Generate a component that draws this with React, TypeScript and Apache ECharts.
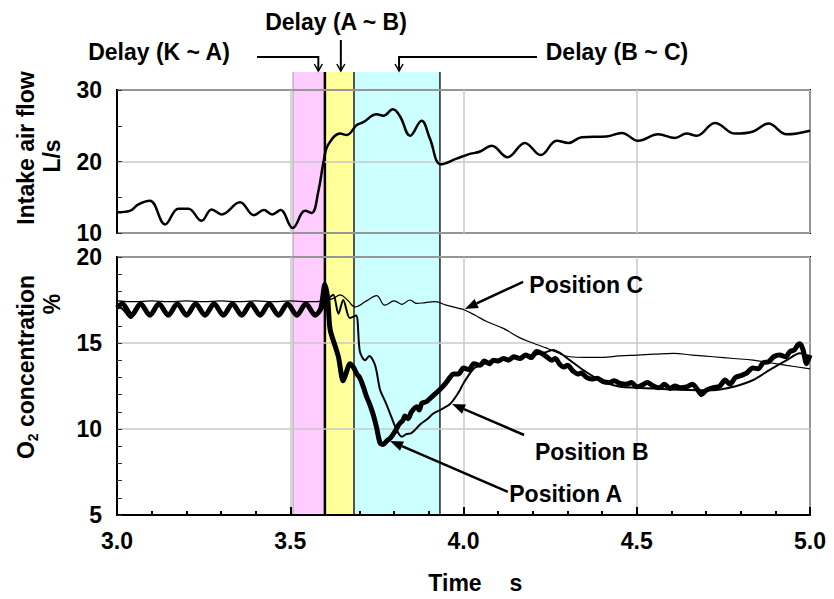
import React, { useEffect, useRef } from "react";
import * as echarts from "echarts";

const FONT = "'Liberation Sans', Arial, Helvetica, sans-serif";

// Time axis (s)
const timeMin = 3.0;
const timeMax = 5.0;
const timeStep = 0.5;

// Intake air flow (L/s) : [time, flow]
const intakeFlow: [number, number][] = [
  [3.0, 12.9], [3.037, 13.1], [3.062, 14.0], [3.095, 14.5], [3.139, 11.2], [3.177, 13.4],
  [3.206, 13.4], [3.244, 11.7], [3.273, 13.3], [3.302, 12.6], [3.355, 14.3], [3.395, 12.5],
  [3.424, 13.2], [3.448, 12.6], [3.472, 13.2], [3.507, 10.7], [3.543, 13.1], [3.562, 12.8],
  [3.581, 15.8], [3.597, 20.2], [3.61, 22.4], [3.644, 23.9], [3.663, 23.7], [3.692, 25.1],
  [3.711, 25.5], [3.749, 26.6], [3.769, 26.4], [3.796, 27.3], [3.817, 26.3], [3.846, 23.6],
  [3.879, 25.7], [3.903, 23.2], [3.935, 19.6], [3.98, 20.4], [4.014, 21.0], [4.048, 21.4],
  [4.081, 22.2], [4.127, 20.6], [4.177, 22.6], [4.223, 20.9], [4.269, 22.9], [4.303, 22.6],
  [4.341, 23.4], [4.413, 23.5], [4.457, 24.0], [4.504, 22.9], [4.562, 23.8], [4.61, 23.3],
  [4.644, 23.9], [4.673, 23.6], [4.726, 25.4], [4.784, 23.9], [4.836, 24.2], [4.88, 25.3],
  [4.933, 23.8], [5.0, 24.3],
];

// O2 concentration (%) at position A : [time, %]
const positionA: [number, number][] = [
  [3.0, 17.05], [3.015, 17.28], [3.042, 16.62], [3.068, 17.28], [3.095, 16.62], [3.121, 17.28],
  [3.148, 16.62], [3.174, 17.28], [3.201, 16.62], [3.227, 17.28], [3.254, 16.62], [3.28, 17.28],
  [3.307, 16.62], [3.333, 17.28], [3.36, 16.62], [3.386, 17.28], [3.413, 16.62], [3.439, 17.28],
  [3.466, 16.62], [3.492, 17.28], [3.519, 16.62], [3.545, 17.28], [3.572, 16.62], [3.588, 17.0],
  [3.6, 18.4], [3.608, 17.6], [3.615, 15.8], [3.63, 14.8], [3.639, 14.2], [3.653, 12.8],
  [3.662, 13.3], [3.672, 13.8], [3.682, 13.6], [3.692, 13.2], [3.7, 13.0], [3.711, 12.45],
  [3.72, 11.9], [3.73, 11.4], [3.74, 10.8], [3.749, 10.1], [3.759, 9.2], [3.768, 9.1],
  [3.778, 9.3], [3.79, 9.5], [3.802, 9.85], [3.815, 10.3], [3.825, 10.5], [3.831, 10.75],
  [3.84, 10.6], [3.85, 11.0], [3.865, 11.3], [3.872, 11.1], [3.88, 11.5], [3.894, 11.6],
  [3.91, 11.9], [3.932, 12.3], [3.95, 12.7], [3.961, 13.0], [3.971, 13.2], [3.985, 13.2],
  [4.0, 13.55], [4.015, 13.45], [4.03, 13.8], [4.048, 13.7], [4.06, 13.95], [4.075, 13.8],
  [4.086, 14.0], [4.1, 13.95], [4.115, 14.1], [4.13, 14.0], [4.145, 14.2], [4.163, 14.1],
  [4.18, 14.3], [4.195, 14.15], [4.211, 14.5], [4.225, 14.4], [4.24, 14.2], [4.255, 14.0],
  [4.265, 14.1], [4.278, 13.75], [4.29, 13.6], [4.3, 13.7], [4.317, 13.35], [4.33, 13.2],
  [4.34, 13.25], [4.355, 13.0], [4.37, 12.9], [4.385, 12.95], [4.403, 12.75], [4.42, 12.7],
  [4.435, 12.8], [4.452, 12.65], [4.47, 12.6], [4.485, 12.7], [4.5, 12.45], [4.515, 12.55],
  [4.53, 12.7], [4.548, 12.5], [4.565, 12.4], [4.58, 12.6], [4.596, 12.35], [4.61, 12.5],
  [4.625, 12.4], [4.644, 12.45], [4.66, 12.6], [4.675, 12.3], [4.687, 12.0], [4.7, 12.25],
  [4.721, 12.4], [4.74, 12.5], [4.755, 12.85], [4.769, 12.6], [4.785, 13.0], [4.8, 13.1],
  [4.817, 13.25], [4.835, 13.55], [4.85, 13.5], [4.865, 13.85], [4.88, 13.9], [4.895, 14.2],
  [4.913, 14.3], [4.93, 14.2], [4.942, 14.5], [4.955, 14.6], [4.965, 14.9], [4.971, 14.95],
  [4.98, 14.6], [4.99, 13.8], [5.0, 14.3],
];

// O2 concentration (%) at position B
const positionB: [number, number][] = [
  [3.0, 17.1], [3.015, 17.0], [3.04, 16.45], [3.068, 17.2], [3.095, 16.7], [3.121, 17.2],
  [3.148, 16.7], [3.174, 17.2], [3.201, 16.7], [3.227, 17.2], [3.254, 16.7], [3.28, 17.2],
  [3.307, 16.7], [3.333, 17.2], [3.36, 16.7], [3.386, 17.2], [3.413, 16.7], [3.439, 17.2],
  [3.466, 16.7], [3.492, 17.2], [3.519, 16.7], [3.545, 17.2], [3.572, 16.7], [3.59, 16.9],
  [3.605, 17.4], [3.624, 17.8], [3.639, 16.7], [3.653, 17.5], [3.672, 16.45], [3.69, 16.6],
  [3.701, 14.5], [3.716, 14.0], [3.728, 14.25], [3.745, 13.7], [3.759, 12.3], [3.774, 11.6],
  [3.788, 10.9], [3.807, 9.95], [3.822, 9.55], [3.835, 9.7], [3.848, 9.75], [3.86, 9.95],
  [3.877, 10.3], [3.894, 10.55], [3.913, 10.9], [3.932, 11.1], [3.961, 11.45], [3.985, 12.1],
  [4.0, 12.66], [4.029, 13.5], [4.048, 13.7], [4.067, 13.85], [4.086, 14.0], [4.12, 14.05],
  [4.16, 14.15], [4.2, 14.3], [4.235, 14.45], [4.259, 14.6], [4.28, 14.4], [4.307, 14.0],
  [4.34, 13.5], [4.375, 13.05], [4.41, 12.7], [4.452, 12.45], [4.5, 12.4], [4.548, 12.35],
  [4.6, 12.3], [4.644, 12.27], [4.69, 12.25], [4.74, 12.3], [4.788, 12.5], [4.836, 12.85],
  [4.885, 13.45], [4.933, 14.0], [4.971, 14.4], [5.0, 14.2],
];

// O2 concentration (%) at position C
const positionC: [number, number][] = [
  [3.0, 17.45], [3.05, 17.4], [3.1, 17.45], [3.15, 17.4], [3.2, 17.45], [3.25, 17.4],
  [3.3, 17.45], [3.35, 17.4], [3.4, 17.45], [3.45, 17.4], [3.5, 17.45], [3.55, 17.4],
  [3.6, 17.45], [3.625, 17.6], [3.644, 17.8], [3.665, 17.5], [3.687, 17.1], [3.72, 17.45],
  [3.749, 17.75], [3.773, 17.2], [3.8, 17.45], [3.822, 17.25], [3.846, 17.5], [3.865, 17.3],
  [3.89, 17.35], [3.918, 17.4], [3.95, 17.2], [3.99, 17.0], [4.0, 16.95], [4.035, 16.6],
  [4.067, 16.25], [4.115, 15.85], [4.163, 15.3], [4.2, 15.0], [4.24, 14.7], [4.27, 14.45],
  [4.307, 14.2], [4.35, 14.17], [4.403, 14.17], [4.45, 14.25], [4.5, 14.3], [4.55, 14.35],
  [4.606, 14.4], [4.66, 14.3], [4.72, 14.2], [4.78, 14.1], [4.836, 14.0], [4.885, 13.85],
  [4.933, 13.7], [5.0, 13.5],
];

// Delay bands (s)
const bandNames = ["Delay (K ~ A)", "Delay (A ~ B)", "Delay (B ~ C)"];
const bandStart = [3.508, 3.6, 3.684];
const bandEnd = [3.6, 3.684, 3.932];
const bandColors = ["#ffccff", "#ffff99", "#ccffff"];
// Arrow targets of delay labels (s)
const delayArrowTime = [3.581, 3.646, 3.814];

// Position labels: [arrow head time, value], [arrow tail time, value], [label time, value]
const positionLabels = ["Position A", "Position B", "Position C"];
const labelHead: [number, number][] = [[3.788, 9.3], [3.967, 11.45], [4.004, 16.98]];
const labelTail: [number, number][] = [[4.128, 6.34], [4.175, 9.65], [4.172, 18.56]];
const labelText: [number, number][] = [[4.132, 6.2], [4.206, 8.66], [4.19, 18.37]];

export default function App() {
  const ref = useRef<HTMLDivElement>(null);

  useEffect(() => {
    if (!ref.current) return;
    const chart = echarts.init(ref.current, undefined, { renderer: "svg" });
    const labelStyle = {
      fontSize: 23,
      fontWeight: "bold" as const,
      fontFamily: FONT,
      color: "#000",
    };
    const grid0 = { left: 117, top: 90, width: 693, height: 143 };
    const grid1 = { left: 117, top: 257, width: 693, height: 258 };
    const option: any = {
      animation: false,
      backgroundColor: "#ffffff",
      grid: [
        { ...grid0, show: true, borderColor: "#000", borderWidth: 2, backgroundColor: "transparent" },
        { ...grid1, show: true, borderColor: "#000", borderWidth: 2, backgroundColor: "transparent" },
      ],
      xAxis: [
        {
          gridIndex: 0, type: "value", min: timeMin, max: timeMax, interval: timeStep,
          axisLine: { show: false }, axisTick: { show: false }, axisLabel: { show: false },
          splitLine: { show: true, lineStyle: { color: "#c8c8c8", width: 1.5 } },
        },
        {
          gridIndex: 1, type: "value", min: timeMin, max: timeMax, interval: timeStep,
          axisLine: { show: true, onZero: false, lineStyle: { color: "#000", width: 2 } },
          axisTick: { show: true, inside: true, length: 8, lineStyle: { color: "#000", width: 2 } },
          minorTick: { show: true, splitNumber: 5, length: 4, lineStyle: { color: "#000", width: 2 } },
          splitLine: { show: true, lineStyle: { color: "#c8c8c8", width: 1.5 } },
          axisLabel: { ...labelStyle, margin: 14, formatter: (v: number) => v.toFixed(1) },
        },
      ],
      yAxis: [
        {
          gridIndex: 0, type: "value", min: 10, max: 30, interval: 10,
          axisLine: { show: true, onZero: false, lineStyle: { color: "#000", width: 2 } },
          axisTick: { show: true, inside: true, length: 5, lineStyle: { color: "#333", width: 1 } },
          minorTick: { show: true, splitNumber: 2, length: 5, lineStyle: { color: "#333", width: 1 } },
          splitLine: { show: true, lineStyle: { color: "#c8c8c8", width: 1.5 } },
          axisLabel: { ...labelStyle, margin: 15 },
        },
        {
          gridIndex: 1, type: "value", min: 5, max: 20, interval: 5,
          axisLine: { show: true, onZero: false, lineStyle: { color: "#000", width: 2 } },
          axisTick: { show: true, inside: true, length: 5, lineStyle: { color: "#333", width: 1 } },
          minorTick: { show: true, splitNumber: 5, length: 5, lineStyle: { color: "#333", width: 1 } },
          splitLine: { show: true, lineStyle: { color: "#c8c8c8", width: 1.5 } },
          axisLabel: { ...labelStyle, margin: 15 },
        },
      ],
      series: [
        {
          name: "Intake air flow", type: "line", xAxisIndex: 0, yAxisIndex: 0,
          data: intakeFlow, showSymbol: false, smooth: 0.4,
          lineStyle: { color: "#000", width: 2.5 },
        },
        {
          name: "Position C", type: "line", xAxisIndex: 1, yAxisIndex: 1,
          data: positionC, showSymbol: false, smooth: 0.4,
          lineStyle: { color: "#000", width: 1.2 },
        },
        {
          name: "Position B", type: "line", xAxisIndex: 1, yAxisIndex: 1,
          data: positionB, showSymbol: false, smooth: 0.3,
          lineStyle: { color: "#000", width: 2 },
        },
        {
          name: "Position A", type: "line", xAxisIndex: 1, yAxisIndex: 1,
          data: positionA, showSymbol: false, smooth: 0.3,
          lineStyle: { color: "#000", width: 5 },
        },
      ],
    };
    chart.setOption(option);

    const px = (t: number) => chart.convertToPixel({ gridIndex: 1 }, [t, 10])[0];
    const pt = (p: [number, number]) => chart.convertToPixel({ gridIndex: 1 }, p) as number[];
    const bandTop = 72;
    const bandBottom = grid1.top + grid1.height;
    const graphics: any[] = [];
    const font = `bold 23px ${FONT}`;

    // bands
    bandStart.forEach((s, i) => {
      const x0 = px(s);
      const x1 = px(bandEnd[i]);
      graphics.push({
        type: "rect", z: -1, silent: true,
        shape: { x: x0, y: bandTop, width: x1 - x0, height: bandBottom - bandTop },
        style: { fill: bandColors[i] },
      });
    });
    const edgeTimes = [bandStart[0], bandStart[1], bandStart[2], bandEnd[2]];
    const edgeColors = ["#a0a0a0", "#000000", "#555555", "#222222"];
    const edgeWidths = [1, 2.5, 2, 1.5];
    edgeTimes.forEach((t, i) => {
      const x = px(t);
      graphics.push({
        type: "line", z: -1, silent: true,
        shape: { x1: x, y1: bandTop, x2: x, y2: bandBottom },
        style: { stroke: edgeColors[i], lineWidth: edgeWidths[i] },
      });
    });

    // delay labels
    const delayTextPos = [[159, 52], [336, 22], [617, 52]];
    bandNames.forEach((name, i) => {
      graphics.push({
        type: "text", x: delayTextPos[i][0], y: delayTextPos[i][1],
        style: { text: name, align: "center", verticalAlign: "middle", font, fill: "#000" },
      });
    });
    const headY = 71;
    const ax = delayArrowTime.map(px);
    graphics.push({ type: "polyline", shape: { points: [[257, 57], [ax[0], 57], [ax[0], headY]] }, style: { stroke: "#000", lineWidth: 2, fill: null } });
    graphics.push({ type: "polyline", shape: { points: [[ax[1], 40], [ax[1], headY]] }, style: { stroke: "#000", lineWidth: 2, fill: null } });
    graphics.push({ type: "polyline", shape: { points: [[537, 57], [ax[2], 57], [ax[2], headY]] }, style: { stroke: "#000", lineWidth: 2, fill: null } });
    ax.forEach((x) => {
      graphics.push({
        type: "polyline",
        shape: { points: [[x - 4, headY - 7], [x, headY], [x + 4, headY - 7]] },
        style: { stroke: "#000", lineWidth: 1.5, fill: null },
      });
    });

    // position annotations
    positionLabels.forEach((name, i) => {
      const h = pt(labelHead[i]);
      const t = pt(labelTail[i]);
      const tx = pt(labelText[i]);
      const dx = h[0] - t[0];
      const dy = h[1] - t[1];
      const len = Math.sqrt(dx * dx + dy * dy);
      const ux = dx / len;
      const uy = dy / len;
      const al = 13;
      const aw = 5;
      const bx = h[0] - ux * al;
      const by = h[1] - uy * al;
      graphics.push({
        type: "line",
        shape: { x1: t[0], y1: t[1], x2: bx, y2: by },
        style: { stroke: "#000", lineWidth: 2.5 },
      });
      graphics.push({
        type: "polygon",
        shape: { points: [[h[0], h[1]], [bx - uy * aw, by + ux * aw], [bx + uy * aw, by - ux * aw]] },
        style: { fill: "#000" },
      });
      graphics.push({
        type: "text", x: tx[0], y: tx[1],
        style: { text: name, align: "left", verticalAlign: "middle", font, fill: "#000" },
      });
    });

    // axis titles
    graphics.push({
      type: "text", x: 26, y: 148, rotation: Math.PI / 2,
      style: { text: "Intake air flow", align: "center", verticalAlign: "middle", font, fill: "#000" },
    });
    graphics.push({
      type: "text", x: 52, y: 156, rotation: Math.PI / 2,
      style: { text: "L/s", align: "center", verticalAlign: "middle", font, fill: "#000" },
    });
    graphics.push({
      type: "text", x: 26, y: 367, rotation: Math.PI / 2,
      style: {
        text: "{o|O}{s|2}{o| concentration}",
        align: "center", verticalAlign: "middle",
        rich: {
          o: { fontSize: 23, fontWeight: "bold", fontFamily: FONT, lineHeight: 27, verticalAlign: "middle", fill: "#000" },
          s: { fontSize: 14, fontWeight: "bold", fontFamily: FONT, lineHeight: 14, height: 14, verticalAlign: "bottom", fill: "#000" },
        },
      },
    });
    graphics.push({
      type: "text", x: 52, y: 304, rotation: Math.PI / 2,
      style: { text: "%", align: "center", verticalAlign: "middle", font, fill: "#000" },
    });
    graphics.push({
      type: "text", x: 455, y: 583,
      style: { text: "Time", align: "center", verticalAlign: "middle", font, fill: "#000" },
    });
    graphics.push({
      type: "text", x: 516, y: 583,
      style: { text: "s", align: "center", verticalAlign: "middle", font, fill: "#000" },
    });

    chart.setOption({ graphic: { elements: graphics } });

    return () => {
      chart.dispose();
    };
  }, []);

  return (
    <div
      ref={ref}
      style={{ position: "fixed", left: 0, top: 0, width: 834, height: 599, background: "#fff" }}
    />
  );
}
